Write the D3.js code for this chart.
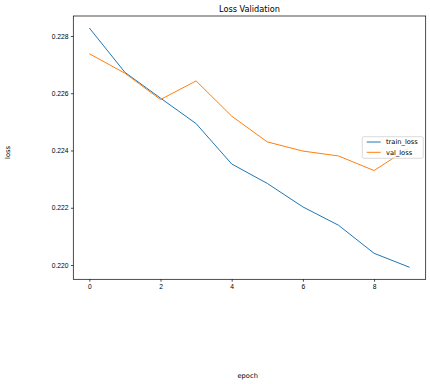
<!DOCTYPE html>
<html>
<head>
<meta charset="utf-8">
<script src="https://cdn.jsdelivr.net/npm/d3@7"></script>
<style>
  body { margin: 0; background: #fff; }
  svg { display: block; font-family: "DejaVu Sans", sans-serif; }
  .axis path { display: none; }
  .axis line { stroke: #000; stroke-width: 0.7; }
  .axis text { fill: #000; font-size: 6.7px; }
</style>
</head>
<body>
<div id="chart"></div>
<script>
// data
const epochs = [0, 1, 2, 3, 4, 5, 6, 7, 8, 9];
const trainLoss = [0.22828, 0.22673, 0.22583, 0.22494, 0.22353, 0.22285, 0.22203, 0.22139, 0.22041, 0.21992];
const valLoss = [0.22738, 0.22670, 0.22578, 0.22643, 0.22520, 0.22430, 0.22398, 0.22381, 0.22330, 0.22411];
const xTicks = [0, 2, 4, 6, 8];
const yTicks = [0.220, 0.222, 0.224, 0.226, 0.228];
const seriesNames = ["train_loss", "val_loss"];
const colors = ["#1f77b4", "#ff7f0e"];

const width = 430, height = 384;
const margin = { top: 16, right: 4.3, bottom: 104.7, left: 73.3 };
const w = width - margin.left - margin.right;
const h = height - margin.top - margin.bottom;

// matplotlib-style 5% padding on both axes
function padded(ext) {
  const pad = (ext[1] - ext[0]) * 0.05;
  return [ext[0] - pad, ext[1] + pad];
}

const xScale = d3.scaleLinear()
  .domain(padded(d3.extent(epochs)))
  .range([0, w]);

const yScale = d3.scaleLinear()
  .domain(padded(d3.extent(trainLoss.concat(valLoss))))
  .range([h, 0]);

const svg = d3.select("#chart").append("svg")
  .attr("width", width)
  .attr("height", height);

const g = svg.append("g")
  .attr("transform", `translate(${margin.left}, ${margin.top})`);

// x-axis
g.append("g")
  .attr("class", "axis")
  .attr("transform", `translate(0, ${h})`)
  .call(d3.axisBottom(xScale).tickValues(xTicks).tickSize(2.4).tickPadding(2.5).tickFormat(d3.format("d")));

// y-axis
g.append("g")
  .attr("class", "axis")
  .call(d3.axisLeft(yScale).tickValues(yTicks).tickSize(2.4).tickPadding(2.5).tickFormat(d3.format(".3f")));

// lines
const line = d3.line()
  .x((d, i) => xScale(epochs[i]))
  .y(d => yScale(d));

[trainLoss, valLoss].forEach((series, i) => {
  g.append("path")
    .datum(series)
    .attr("fill", "none")
    .attr("stroke", colors[i])
    .attr("stroke-width", 1)
    .attr("stroke-linejoin", "round")
    .attr("d", line);
});

// frame
g.append("rect")
  .attr("width", w)
  .attr("height", h)
  .attr("fill", "none")
  .attr("stroke", "#000")
  .attr("stroke-width", 0.7);

// legend
const legend = g.append("g")
  .attr("transform", `translate(${362.3 - margin.left}, ${136.7 - margin.top})`);

legend.append("rect")
  .attr("width", 61)
  .attr("height", 21.6)
  .attr("rx", 1.5)
  .attr("fill", "#fff")
  .attr("fill-opacity", 0.8)
  .attr("stroke", "#ccc")
  .attr("stroke-width", 0.7);

seriesNames.forEach((name, i) => {
  const y = 5.3 + i * 10.3;
  legend.append("line")
    .attr("x1", 4.4).attr("x2", 18.4)
    .attr("y1", y).attr("y2", y)
    .attr("stroke", colors[i])
    .attr("stroke-width", 1);
  legend.append("text")
    .attr("x", 23.7)
    .attr("y", y)
    .attr("dy", "0.35em")
    .style("font-size", "6.7px")
    .text(name);
});

// title and axis labels
svg.append("text")
  .attr("x", margin.left + w / 2)
  .attr("y", 11.8)
  .attr("text-anchor", "middle")
  .style("font-size", "8.2px")
  .text("Loss Validation");

svg.append("text")
  .attr("x", 247.7)
  .attr("y", 378)
  .attr("text-anchor", "middle")
  .style("font-size", "6.7px")
  .text("epoch");

svg.append("text")
  .attr("transform", "translate(10, 152.5) rotate(-90)")
  .attr("text-anchor", "middle")
  .style("font-size", "6.7px")
  .text("loss");
</script>
</body>
</html>
